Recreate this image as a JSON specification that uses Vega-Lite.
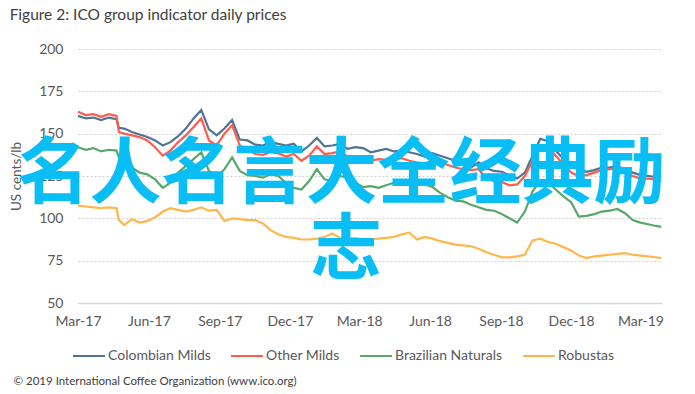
{
  "$schema": "https://vega.github.io/schema/vega-lite/v6.json",
  "width": 584,
  "height": 254,
  "autosize": "none",
  "padding": {"left": 78, "top": 49, "right": 33, "bottom": 91},
  "background": "white",
  "config": {"view": {"stroke": null}, "font": "Lato"},
  "title": {"text": "Figure 2: ICO group indicator daily prices", "anchor": "start", "frame": "bounds", "fontSize": 15.5, "fontWeight": "normal", "color": "#404040", "font": "Lato", "offset": 19},
  "datasets": {
    "prices": [
      {"d":"2017-03-01","s":"Colombian Milds","v":160.5},{"d":"2017-03-11","s":"Colombian Milds","v":159},{"d":"2017-03-21","s":"Colombian Milds","v":159.5},{"d":"2017-03-31","s":"Colombian Milds","v":158},{"d":"2017-04-10","s":"Colombian Milds","v":159.5},{"d":"2017-04-20","s":"Colombian Milds","v":158.5},{"d":"2017-04-23","s":"Colombian Milds","v":153.5},{"d":"2017-04-30","s":"Colombian Milds","v":153},{"d":"2017-05-10","s":"Colombian Milds","v":151},{"d":"2017-05-20","s":"Colombian Milds","v":149.5},{"d":"2017-05-30","s":"Colombian Milds","v":148},{"d":"2017-06-09","s":"Colombian Milds","v":146},{"d":"2017-06-19","s":"Colombian Milds","v":143},{"d":"2017-06-29","s":"Colombian Milds","v":145},{"d":"2017-07-09","s":"Colombian Milds","v":148.5},{"d":"2017-07-19","s":"Colombian Milds","v":153},{"d":"2017-07-29","s":"Colombian Milds","v":159},{"d":"2017-08-08","s":"Colombian Milds","v":164},{"d":"2017-08-18","s":"Colombian Milds","v":152.5},{"d":"2017-08-28","s":"Colombian Milds","v":149},{"d":"2017-09-07","s":"Colombian Milds","v":153},{"d":"2017-09-17","s":"Colombian Milds","v":158},{"d":"2017-09-27","s":"Colombian Milds","v":146.5},{"d":"2017-10-07","s":"Colombian Milds","v":146},{"d":"2017-10-17","s":"Colombian Milds","v":143.5},{"d":"2017-10-27","s":"Colombian Milds","v":143},{"d":"2017-11-06","s":"Colombian Milds","v":145},{"d":"2017-11-16","s":"Colombian Milds","v":144},{"d":"2017-11-26","s":"Colombian Milds","v":143},{"d":"2017-12-06","s":"Colombian Milds","v":144},{"d":"2017-12-16","s":"Colombian Milds","v":139.5},{"d":"2017-12-26","s":"Colombian Milds","v":143},{"d":"2018-01-05","s":"Colombian Milds","v":147.5},{"d":"2018-01-15","s":"Colombian Milds","v":142.5},{"d":"2018-01-25","s":"Colombian Milds","v":143},{"d":"2018-02-04","s":"Colombian Milds","v":144},{"d":"2018-02-14","s":"Colombian Milds","v":141},{"d":"2018-02-24","s":"Colombian Milds","v":142},{"d":"2018-03-06","s":"Colombian Milds","v":141.5},{"d":"2018-03-16","s":"Colombian Milds","v":139},{"d":"2018-03-26","s":"Colombian Milds","v":140},{"d":"2018-04-05","s":"Colombian Milds","v":141},{"d":"2018-04-15","s":"Colombian Milds","v":139.5},{"d":"2018-04-25","s":"Colombian Milds","v":140},{"d":"2018-05-05","s":"Colombian Milds","v":139},{"d":"2018-05-15","s":"Colombian Milds","v":138},{"d":"2018-05-25","s":"Colombian Milds","v":136.5},{"d":"2018-06-04","s":"Colombian Milds","v":138.5},{"d":"2018-06-14","s":"Colombian Milds","v":137},{"d":"2018-06-24","s":"Colombian Milds","v":135.5},{"d":"2018-07-04","s":"Colombian Milds","v":134},{"d":"2018-07-14","s":"Colombian Milds","v":132.5},{"d":"2018-07-24","s":"Colombian Milds","v":130},{"d":"2018-08-03","s":"Colombian Milds","v":133},{"d":"2018-08-13","s":"Colombian Milds","v":129.5},{"d":"2018-08-23","s":"Colombian Milds","v":128},{"d":"2018-09-02","s":"Colombian Milds","v":127.5},{"d":"2018-09-12","s":"Colombian Milds","v":125.5},{"d":"2018-09-22","s":"Colombian Milds","v":123.5},{"d":"2018-10-02","s":"Colombian Milds","v":127},{"d":"2018-10-12","s":"Colombian Milds","v":137},{"d":"2018-10-22","s":"Colombian Milds","v":147},{"d":"2018-11-01","s":"Colombian Milds","v":145.5},{"d":"2018-11-11","s":"Colombian Milds","v":140},{"d":"2018-11-21","s":"Colombian Milds","v":135},{"d":"2018-12-01","s":"Colombian Milds","v":130.5},{"d":"2018-12-11","s":"Colombian Milds","v":129},{"d":"2018-12-21","s":"Colombian Milds","v":127.5},{"d":"2018-12-31","s":"Colombian Milds","v":128.5},{"d":"2019-01-10","s":"Colombian Milds","v":130},{"d":"2019-01-20","s":"Colombian Milds","v":130},{"d":"2019-01-30","s":"Colombian Milds","v":131},{"d":"2019-02-09","s":"Colombian Milds","v":128.5},{"d":"2019-02-19","s":"Colombian Milds","v":127},{"d":"2019-03-01","s":"Colombian Milds","v":125.5},{"d":"2019-03-11","s":"Colombian Milds","v":125},{"d":"2019-03-21","s":"Colombian Milds","v":124.5},{"d":"2019-03-28","s":"Colombian Milds","v":124.5},

      {"d":"2017-03-01","s":"Other Milds","v":163},{"d":"2017-03-11","s":"Other Milds","v":161},{"d":"2017-03-21","s":"Other Milds","v":161.5},{"d":"2017-03-31","s":"Other Milds","v":160},{"d":"2017-04-10","s":"Other Milds","v":161.5},{"d":"2017-04-20","s":"Other Milds","v":160.5},{"d":"2017-04-23","s":"Other Milds","v":151},{"d":"2017-04-30","s":"Other Milds","v":150},{"d":"2017-05-10","s":"Other Milds","v":149},{"d":"2017-05-20","s":"Other Milds","v":148},{"d":"2017-05-30","s":"Other Milds","v":146},{"d":"2017-06-09","s":"Other Milds","v":142},{"d":"2017-06-19","s":"Other Milds","v":137},{"d":"2017-06-29","s":"Other Milds","v":140},{"d":"2017-07-09","s":"Other Milds","v":145},{"d":"2017-07-19","s":"Other Milds","v":149},{"d":"2017-07-29","s":"Other Milds","v":154},{"d":"2017-08-08","s":"Other Milds","v":159},{"d":"2017-08-18","s":"Other Milds","v":146},{"d":"2017-08-28","s":"Other Milds","v":143},{"d":"2017-09-07","s":"Other Milds","v":150},{"d":"2017-09-17","s":"Other Milds","v":155},{"d":"2017-09-27","s":"Other Milds","v":143},{"d":"2017-10-07","s":"Other Milds","v":140.5},{"d":"2017-10-17","s":"Other Milds","v":138},{"d":"2017-10-27","s":"Other Milds","v":137.5},{"d":"2017-11-06","s":"Other Milds","v":139},{"d":"2017-11-16","s":"Other Milds","v":138.5},{"d":"2017-11-26","s":"Other Milds","v":136.5},{"d":"2017-12-06","s":"Other Milds","v":138},{"d":"2017-12-16","s":"Other Milds","v":134},{"d":"2017-12-26","s":"Other Milds","v":137},{"d":"2018-01-05","s":"Other Milds","v":142.5},{"d":"2018-01-15","s":"Other Milds","v":138},{"d":"2018-01-25","s":"Other Milds","v":138.5},{"d":"2018-02-04","s":"Other Milds","v":139.5},{"d":"2018-02-14","s":"Other Milds","v":136.5},{"d":"2018-02-24","s":"Other Milds","v":135},{"d":"2018-03-06","s":"Other Milds","v":134.5},{"d":"2018-03-16","s":"Other Milds","v":134},{"d":"2018-03-26","s":"Other Milds","v":135},{"d":"2018-04-05","s":"Other Milds","v":134.5},{"d":"2018-04-15","s":"Other Milds","v":135},{"d":"2018-04-25","s":"Other Milds","v":135.5},{"d":"2018-05-05","s":"Other Milds","v":134},{"d":"2018-05-15","s":"Other Milds","v":133},{"d":"2018-05-25","s":"Other Milds","v":132.5},{"d":"2018-06-04","s":"Other Milds","v":134},{"d":"2018-06-14","s":"Other Milds","v":133},{"d":"2018-06-24","s":"Other Milds","v":131.5},{"d":"2018-07-04","s":"Other Milds","v":130},{"d":"2018-07-14","s":"Other Milds","v":129},{"d":"2018-07-24","s":"Other Milds","v":128.5},{"d":"2018-08-03","s":"Other Milds","v":129},{"d":"2018-08-13","s":"Other Milds","v":123.5},{"d":"2018-08-23","s":"Other Milds","v":122},{"d":"2018-09-02","s":"Other Milds","v":121.5},{"d":"2018-09-12","s":"Other Milds","v":119.5},{"d":"2018-09-22","s":"Other Milds","v":120},{"d":"2018-10-02","s":"Other Milds","v":125},{"d":"2018-10-12","s":"Other Milds","v":134},{"d":"2018-10-22","s":"Other Milds","v":143},{"d":"2018-11-01","s":"Other Milds","v":142},{"d":"2018-11-11","s":"Other Milds","v":137},{"d":"2018-11-21","s":"Other Milds","v":132},{"d":"2018-12-01","s":"Other Milds","v":127},{"d":"2018-12-11","s":"Other Milds","v":125},{"d":"2018-12-21","s":"Other Milds","v":125.5},{"d":"2018-12-31","s":"Other Milds","v":127},{"d":"2019-01-10","s":"Other Milds","v":128.5},{"d":"2019-01-20","s":"Other Milds","v":129},{"d":"2019-01-30","s":"Other Milds","v":129.5},{"d":"2019-02-09","s":"Other Milds","v":127},{"d":"2019-02-19","s":"Other Milds","v":125},{"d":"2019-03-01","s":"Other Milds","v":123.5},{"d":"2019-03-11","s":"Other Milds","v":123.5},{"d":"2019-03-21","s":"Other Milds","v":123},{"d":"2019-03-28","s":"Other Milds","v":122.5},

      {"d":"2017-03-01","s":"Brazilian Naturals","v":142},{"d":"2017-03-11","s":"Brazilian Naturals","v":140.5},{"d":"2017-03-21","s":"Brazilian Naturals","v":141.5},{"d":"2017-03-31","s":"Brazilian Naturals","v":139.5},{"d":"2017-04-10","s":"Brazilian Naturals","v":140.5},{"d":"2017-04-20","s":"Brazilian Naturals","v":140},{"d":"2017-04-23","s":"Brazilian Naturals","v":136},{"d":"2017-04-30","s":"Brazilian Naturals","v":134},{"d":"2017-05-10","s":"Brazilian Naturals","v":130},{"d":"2017-05-20","s":"Brazilian Naturals","v":127},{"d":"2017-05-30","s":"Brazilian Naturals","v":126},{"d":"2017-06-09","s":"Brazilian Naturals","v":123},{"d":"2017-06-19","s":"Brazilian Naturals","v":118},{"d":"2017-06-29","s":"Brazilian Naturals","v":121},{"d":"2017-07-09","s":"Brazilian Naturals","v":127},{"d":"2017-07-19","s":"Brazilian Naturals","v":131},{"d":"2017-07-29","s":"Brazilian Naturals","v":135},{"d":"2017-08-08","s":"Brazilian Naturals","v":139},{"d":"2017-08-18","s":"Brazilian Naturals","v":128},{"d":"2017-08-28","s":"Brazilian Naturals","v":125},{"d":"2017-09-07","s":"Brazilian Naturals","v":129},{"d":"2017-09-17","s":"Brazilian Naturals","v":136},{"d":"2017-09-27","s":"Brazilian Naturals","v":128},{"d":"2017-10-07","s":"Brazilian Naturals","v":125.5},{"d":"2017-10-17","s":"Brazilian Naturals","v":125},{"d":"2017-10-27","s":"Brazilian Naturals","v":124},{"d":"2017-11-06","s":"Brazilian Naturals","v":126},{"d":"2017-11-16","s":"Brazilian Naturals","v":125},{"d":"2017-11-26","s":"Brazilian Naturals","v":121},{"d":"2017-12-06","s":"Brazilian Naturals","v":118},{"d":"2017-12-16","s":"Brazilian Naturals","v":117},{"d":"2017-12-26","s":"Brazilian Naturals","v":122},{"d":"2018-01-05","s":"Brazilian Naturals","v":129},{"d":"2018-01-15","s":"Brazilian Naturals","v":123},{"d":"2018-01-25","s":"Brazilian Naturals","v":122},{"d":"2018-02-04","s":"Brazilian Naturals","v":125},{"d":"2018-02-14","s":"Brazilian Naturals","v":124},{"d":"2018-02-24","s":"Brazilian Naturals","v":121},{"d":"2018-03-06","s":"Brazilian Naturals","v":118.5},{"d":"2018-03-16","s":"Brazilian Naturals","v":119},{"d":"2018-03-26","s":"Brazilian Naturals","v":118},{"d":"2018-04-05","s":"Brazilian Naturals","v":119.5},{"d":"2018-04-15","s":"Brazilian Naturals","v":121},{"d":"2018-04-25","s":"Brazilian Naturals","v":122},{"d":"2018-05-05","s":"Brazilian Naturals","v":122.5},{"d":"2018-05-15","s":"Brazilian Naturals","v":122},{"d":"2018-05-25","s":"Brazilian Naturals","v":120},{"d":"2018-06-04","s":"Brazilian Naturals","v":118.5},{"d":"2018-06-14","s":"Brazilian Naturals","v":115},{"d":"2018-06-24","s":"Brazilian Naturals","v":112.5},{"d":"2018-07-04","s":"Brazilian Naturals","v":110.5},{"d":"2018-07-14","s":"Brazilian Naturals","v":110},{"d":"2018-07-24","s":"Brazilian Naturals","v":108},{"d":"2018-08-03","s":"Brazilian Naturals","v":106.5},{"d":"2018-08-13","s":"Brazilian Naturals","v":105},{"d":"2018-08-23","s":"Brazilian Naturals","v":104.5},{"d":"2018-09-02","s":"Brazilian Naturals","v":102.5},{"d":"2018-09-12","s":"Brazilian Naturals","v":100},{"d":"2018-09-22","s":"Brazilian Naturals","v":97.5},{"d":"2018-10-02","s":"Brazilian Naturals","v":104},{"d":"2018-10-12","s":"Brazilian Naturals","v":116},{"d":"2018-10-22","s":"Brazilian Naturals","v":122},{"d":"2018-11-01","s":"Brazilian Naturals","v":121},{"d":"2018-11-11","s":"Brazilian Naturals","v":117},{"d":"2018-11-21","s":"Brazilian Naturals","v":113},{"d":"2018-12-01","s":"Brazilian Naturals","v":109.5},{"d":"2018-12-11","s":"Brazilian Naturals","v":101},{"d":"2018-12-21","s":"Brazilian Naturals","v":101.5},{"d":"2018-12-31","s":"Brazilian Naturals","v":102.5},{"d":"2019-01-10","s":"Brazilian Naturals","v":104},{"d":"2019-01-20","s":"Brazilian Naturals","v":104.5},{"d":"2019-01-30","s":"Brazilian Naturals","v":105.5},{"d":"2019-02-09","s":"Brazilian Naturals","v":103},{"d":"2019-02-19","s":"Brazilian Naturals","v":99},{"d":"2019-03-01","s":"Brazilian Naturals","v":97.5},{"d":"2019-03-11","s":"Brazilian Naturals","v":96.5},{"d":"2019-03-21","s":"Brazilian Naturals","v":95.5},{"d":"2019-03-28","s":"Brazilian Naturals","v":95},

      {"d":"2017-03-01","s":"Robustas","v":107.5},{"d":"2017-03-11","s":"Robustas","v":107},{"d":"2017-03-21","s":"Robustas","v":106.5},{"d":"2017-03-31","s":"Robustas","v":106},{"d":"2017-04-10","s":"Robustas","v":106.5},{"d":"2017-04-20","s":"Robustas","v":106},{"d":"2017-04-23","s":"Robustas","v":99},{"d":"2017-04-30","s":"Robustas","v":96},{"d":"2017-05-10","s":"Robustas","v":99.5},{"d":"2017-05-20","s":"Robustas","v":97.5},{"d":"2017-05-30","s":"Robustas","v":98.5},{"d":"2017-06-09","s":"Robustas","v":100.5},{"d":"2017-06-19","s":"Robustas","v":104},{"d":"2017-06-29","s":"Robustas","v":106},{"d":"2017-07-09","s":"Robustas","v":105},{"d":"2017-07-19","s":"Robustas","v":104},{"d":"2017-07-29","s":"Robustas","v":105},{"d":"2017-08-08","s":"Robustas","v":106.5},{"d":"2017-08-18","s":"Robustas","v":104.5},{"d":"2017-08-28","s":"Robustas","v":105},{"d":"2017-09-07","s":"Robustas","v":98.5},{"d":"2017-09-17","s":"Robustas","v":100},{"d":"2017-09-27","s":"Robustas","v":99.5},{"d":"2017-10-07","s":"Robustas","v":99},{"d":"2017-10-17","s":"Robustas","v":99},{"d":"2017-10-27","s":"Robustas","v":97},{"d":"2017-11-06","s":"Robustas","v":93},{"d":"2017-11-16","s":"Robustas","v":90.5},{"d":"2017-11-26","s":"Robustas","v":89},{"d":"2017-12-06","s":"Robustas","v":88.5},{"d":"2017-12-16","s":"Robustas","v":87.5},{"d":"2017-12-26","s":"Robustas","v":87.5},{"d":"2018-01-05","s":"Robustas","v":88},{"d":"2018-01-15","s":"Robustas","v":89},{"d":"2018-01-25","s":"Robustas","v":91},{"d":"2018-02-04","s":"Robustas","v":88.5},{"d":"2018-02-14","s":"Robustas","v":88},{"d":"2018-02-24","s":"Robustas","v":88.5},{"d":"2018-03-06","s":"Robustas","v":87.5},{"d":"2018-03-16","s":"Robustas","v":87.5},{"d":"2018-03-26","s":"Robustas","v":88},{"d":"2018-04-05","s":"Robustas","v":88.5},{"d":"2018-04-15","s":"Robustas","v":89},{"d":"2018-04-25","s":"Robustas","v":90.5},{"d":"2018-05-05","s":"Robustas","v":91.5},{"d":"2018-05-15","s":"Robustas","v":87.5},{"d":"2018-05-25","s":"Robustas","v":89},{"d":"2018-06-04","s":"Robustas","v":88},{"d":"2018-06-14","s":"Robustas","v":86.5},{"d":"2018-06-24","s":"Robustas","v":85.5},{"d":"2018-07-04","s":"Robustas","v":84.5},{"d":"2018-07-14","s":"Robustas","v":84},{"d":"2018-07-24","s":"Robustas","v":83.5},{"d":"2018-08-03","s":"Robustas","v":82},{"d":"2018-08-13","s":"Robustas","v":80},{"d":"2018-08-23","s":"Robustas","v":78.5},{"d":"2018-09-02","s":"Robustas","v":77},{"d":"2018-09-12","s":"Robustas","v":77},{"d":"2018-09-22","s":"Robustas","v":77.5},{"d":"2018-10-02","s":"Robustas","v":78.5},{"d":"2018-10-12","s":"Robustas","v":87},{"d":"2018-10-22","s":"Robustas","v":88},{"d":"2018-11-01","s":"Robustas","v":86},{"d":"2018-11-11","s":"Robustas","v":85},{"d":"2018-11-21","s":"Robustas","v":83},{"d":"2018-12-01","s":"Robustas","v":81},{"d":"2018-12-11","s":"Robustas","v":78},{"d":"2018-12-21","s":"Robustas","v":76.5},{"d":"2018-12-31","s":"Robustas","v":77.5},{"d":"2019-01-10","s":"Robustas","v":78},{"d":"2019-01-20","s":"Robustas","v":78.5},{"d":"2019-01-30","s":"Robustas","v":79},{"d":"2019-02-09","s":"Robustas","v":79.5},{"d":"2019-02-19","s":"Robustas","v":78.5},{"d":"2019-03-01","s":"Robustas","v":78},{"d":"2019-03-11","s":"Robustas","v":77.5},{"d":"2019-03-21","s":"Robustas","v":77},{"d":"2019-03-28","s":"Robustas","v":76.5}
    ],
    "watermark": [
      {"t": "名人名言大全经典励", "d": "2018-02-06", "v": 125.5},
      {"t": "志", "d": "2018-02-12", "v": 81}
    ]
  },
  "layer": [
    {
      "data": {"name": "prices"},
      "mark": {"type": "line", "strokeWidth": 2.2},
      "encoding": {
        "x": {
          "field": "d", "type": "temporal",
          "scale": {"type": "utc", "domain": [{"year": 2017, "month": 3, "date": 1, "utc": true}, {"year": 2019, "month": 3, "date": 29, "utc": true}]},
          "axis": {
            "values": [
              {"year": 2017, "month": 3, "date": 1, "utc": true},
              {"year": 2017, "month": 6, "date": 1, "utc": true},
              {"year": 2017, "month": 9, "date": 1, "utc": true},
              {"year": 2017, "month": 12, "date": 1, "utc": true},
              {"year": 2018, "month": 3, "date": 1, "utc": true},
              {"year": 2018, "month": 6, "date": 1, "utc": true},
              {"year": 2018, "month": 9, "date": 1, "utc": true},
              {"year": 2018, "month": 12, "date": 1, "utc": true},
              {"year": 2019, "month": 3, "date": 1, "utc": true}
            ],
            "format": "%b-%y",
            "labelFlush": false,
            "labelOverlap": false,
            "ticks": false,
            "grid": false,
            "domainColor": "#d9d9d9",
            "domainWidth": 1.5,
            "labelPadding": 11,
            "labelFontSize": 14,
            "labelFont": "Lato",
            "labelColor": "#595959",
            "title": "© 2019 International Coffee Organization (www.ico.org)",
            "titleAnchor": "start",
            "titleAlign": "left",
            "titleBaseline": "middle",
            "titleX": -65,
            "titleY": 78,
            "titleFont": "Lato",
            "titleFontSize": 11.5,
            "titleFontWeight": "normal",
            "titleColor": "#404040"
          }
        },
        "y": {
          "field": "v", "type": "quantitative",
          "scale": {"domain": [50, 200], "nice": false, "zero": false},
          "axis": {
            "values": [50, 75, 100, 125, 150, 175, 200],
            "title": "US cents/lb",
            "grid": true,
            "gridDash": [2, 2],
            "gridColor": "#cfcfcf",
            "gridWidth": 1,
            "ticks": false,
            "domain": false,
            "labelPadding": 15,
            "labelFontSize": 14,
            "labelFont": "Lato",
            "labelColor": "#595959",
            "titleFont": "Lato",
            "titleFontSize": 13.5,
            "titleFontWeight": "normal",
            "titleColor": "#595959",
            "titlePadding": 15
          }
        },
        "color": {
          "field": "s", "type": "nominal",
          "scale": {"domain": ["Colombian Milds", "Other Milds", "Brazilian Naturals", "Robustas"], "range": ["#4e7496", "#ff5c4d", "#58a76a", "#ffb64a"]},
          "legend": {
            "orient": "none",
            "legendX": -6,
            "legendY": 290,
            "direction": "horizontal",
            "title": null,
            "symbolType": "stroke",
            "symbolSize": 1024,
            "symbolStrokeWidth": 2,
            "labelFontSize": 14,
            "labelFont": "Lato",
            "labelColor": "#595959",
            "labelOffset": 2,
            "columnPadding": 16
          }
        }
      }
    },
    {
      "data": {"name": "watermark"},
      "mark": {"type": "text", "font": "Noto Sans CJK SC", "fontSize": 72, "fontWeight": "bold", "color": "#09bdf5", "align": "center", "baseline": "middle"},
      "encoding": {
        "x": {"field": "d", "type": "temporal"},
        "y": {"field": "v", "type": "quantitative"},
        "text": {"field": "t"}
      }
    }
  ]
}
